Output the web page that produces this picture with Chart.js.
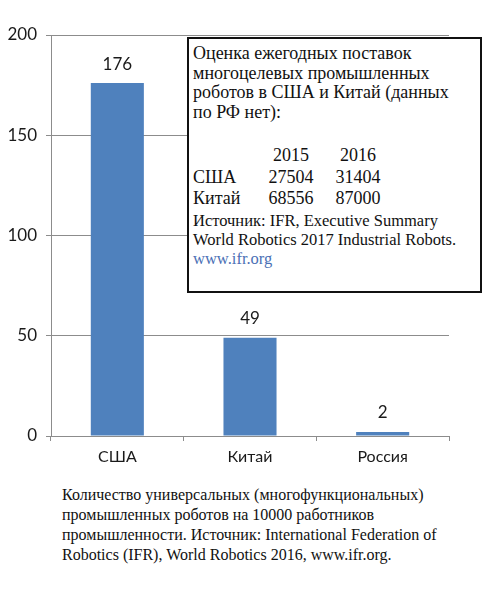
<!DOCTYPE html>
<html>
<head>
<meta charset="utf-8">
<script src="https://cdn.jsdelivr.net/npm/chart.js@4"></script>
<style>
  body { margin: 0; background: #fff; width: 497px; height: 590px; position: relative; overflow: hidden; }
  #wrap { position: absolute; left: 0; top: 0; width: 497px; height: 480px; }
  #note {
    position: absolute; left: 187px; top: 37px; width: 287px; height: 252px;
    border: 2px solid #111; background: #fff;
    font-family: "Liberation Serif", serif; font-size: 18px; line-height: 19.5px; color: #111;
    padding: 0 0 0 4px; box-sizing: content-box; white-space: nowrap;
  }
  #note .row { line-height: 21.5px; }
  #note .row span { display: inline-block; }
  #note .c0 { width: 69px; }
  #note .c1 { width: 58px; text-align: center; }
  #note .c2 { width: 72px; text-align: center; margin-left: 2px; }
  #note a { color: #4a6fb5; text-decoration: none; }
  #caption {
    position: absolute; left: 62px; top: 485px; width: 430px;
    font-family: "Liberation Serif", serif; font-size: 16px; line-height: 20px; color: #111;
  }
</style>
</head>
<body>
<div id="wrap"><canvas id="robotsChart"></canvas></div>
<div id="note">
  <div style="margin-top:5px">Оценка ежегодных поставок<br>многоцелевых промышленных<br>роботов в США и Китай (данных<br>по РФ нет):</div>
  <div class="row" style="margin-top:23px"><span class="c0"></span><span class="c1">2015</span><span class="c2">2016</span></div>
  <div class="row"><span class="c0">США</span><span class="c1">27504</span><span class="c2">31404</span></div>
  <div class="row"><span class="c0">Китай</span><span class="c1">68556</span><span class="c2">87000</span></div>
  <div style="font-size:16.5px; line-height:19px; margin-top:1px">Источник: IFR, Executive Summary<br>World Robotics 2017 Industrial Robots.<br><a>www.ifr.org</a></div>
</div>
<div id="caption">Количество универсальных (многофункциональных)<br>промышленных роботов на 10000 работников<br>промышленности. Источник: International Federation of<br>Robotics (IFR), World Robotics 2016, www.ifr.org.</div>
<script>
const countries = ['США', 'Китай', 'Россия'];
const robotsPer10k = [176, 49, 2];
const yTicks = [0, 50, 100, 150, 200];

const valueLabels = {
  id: 'valueLabels',
  afterDatasetsDraw(chart) {
    const ctx = chart.ctx;
    const meta = chart.getDatasetMeta(0);
    ctx.save();
    ctx.font = '17px Lato';
    ctx.fillStyle = '#1a1a1a';
    ctx.textAlign = 'center';
    ctx.textBaseline = 'middle';
    meta.data.forEach((bar, i) => {
      ctx.fillText(robotsPer10k[i], bar.x, bar.y - 19);
    });
    ctx.restore();
  }
};

document.addEventListener("DOMContentLoaded", function () {
  const ctx = document.getElementById('robotsChart').getContext('2d');
  new Chart(ctx, {
    type: 'bar',
    data: {
      labels: countries,
      datasets: [{
        data: robotsPer10k,
        backgroundColor: '#4f81bd',
        categoryPercentage: 1,
        barPercentage: 0.4
      }]
    },
    options: {
      responsive: true,
      maintainAspectRatio: false,
      animation: false,
      layout: { padding: { left: 0, right: 48, top: 35, bottom: 0 } },
      plugins: { legend: { display: false }, tooltip: { enabled: false } },
      scales: {
        x: {
          grid: { offset: true, drawOnChartArea: false, drawTicks: true, tickLength: 5, color: '#8c8c8c' },
          border: { color: '#8c8c8c' },
          ticks: { color: '#1a1a1a', font: { family: 'Lato', size: 16 }, padding: 6 },
          afterFit: s => { s.height = 44; }
        },
        y: {
          min: 0, max: 200,
          afterBuildTicks: s => { s.ticks = yTicks.map(v => ({ value: v })); },
          grid: { color: '#8c8c8c', tickLength: 5 },
          border: { color: '#8c8c8c' },
          ticks: { color: '#1a1a1a', font: { family: 'Lato', size: 17 }, padding: 9 },
          afterFit: s => { s.width = 51; }
        }
      }
    },
    plugins: [valueLabels]
  });
});
</script>
</body>
</html>
